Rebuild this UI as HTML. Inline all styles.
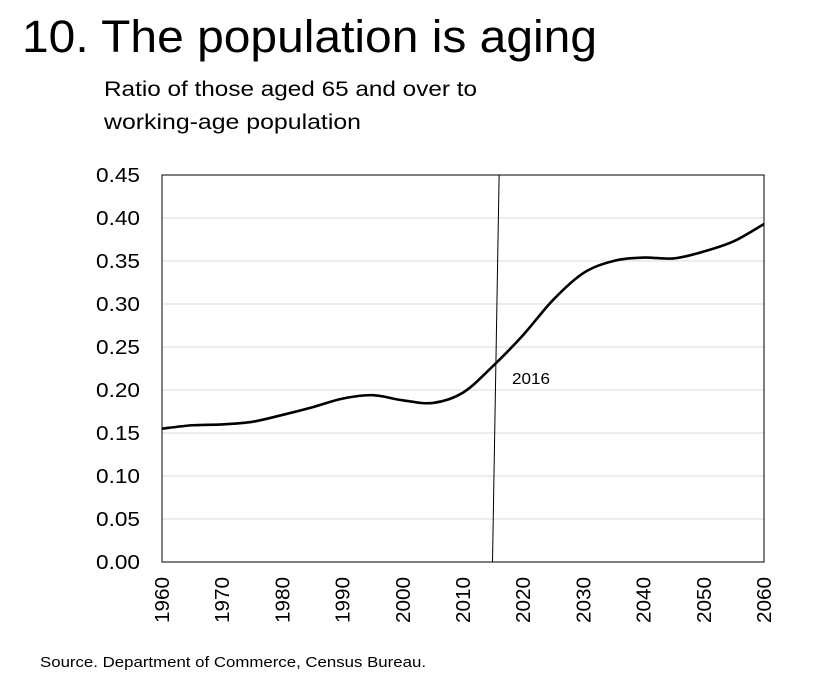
<!DOCTYPE html>
<html><head><meta charset="utf-8">
<style>
body{margin:0;background:#fff;width:826px;height:681px;overflow:hidden;font-family:"Liberation Sans",sans-serif;}
svg text{font-family:"Liberation Sans",sans-serif;}
</style></head>
<body>
<svg width="826" height="681">
<text x="22" y="52" font-size="45" textLength="575" lengthAdjust="spacingAndGlyphs" fill="#000">10. The population is aging</text>
<text x="104" y="96" font-size="21" textLength="373" lengthAdjust="spacingAndGlyphs">Ratio of those aged 65 and over to</text>
<text x="104" y="129" font-size="21" textLength="257" lengthAdjust="spacingAndGlyphs">working-age population</text>
<g id="grid"></g>
<rect x="162" y="175" width="602" height="387" fill="none" stroke="#000" stroke-width="1"/>
<g id="yt"></g><g id="xt"></g>
<path id="line" fill="none" stroke="#000" stroke-width="2.6" stroke-linejoin="round"/>
<line id="mark" stroke="#000" stroke-width="1"/>
<text x="512" y="384" font-size="16" textLength="38" lengthAdjust="spacingAndGlyphs">2016</text>
<text x="40" y="667" font-size="15" textLength="386" lengthAdjust="spacingAndGlyphs">Source. Department of Commerce, Census Bureau.</text>
</svg>
<script>
const years=[1960,1965,1970,1975,1980,1985,1990,1995,2000,2005,2010,2015,2020,2025,2030,2035,2040,2045,2050,2055,2060];
const ratio=[0.155,0.159,0.160,0.163,0.171,0.180,0.190,0.194,0.188,0.185,0.197,0.228,0.264,0.305,0.336,0.350,0.354,0.353,0.361,0.373,0.393];
const yTicks=[0,0.05,0.10,0.15,0.20,0.25,0.30,0.35,0.40,0.45];
const xTicks=[1960,1970,1980,1990,2000,2010,2020,2030,2040,2050,2060];
const markerYear=[2014.9,2016];
const X=v=>162+(v-1960)*602/100, Y=v=>562-v*387/0.45;
const ns="http://www.w3.org/2000/svg";
const grid=document.getElementById('grid'),yt=document.getElementById('yt'),xt=document.getElementById('xt');
yTicks.forEach(t=>{
 const l=document.createElementNS(ns,'line');
 
 
 l.setAttribute('x1',162);l.setAttribute('x2',764);l.setAttribute('y1',Y(t));l.setAttribute('y2',Y(t));
 l.setAttribute('stroke','#d9d9d9');grid.appendChild(l);
 const tx=document.createElementNS(ns,'text');
 
 
 tx.setAttribute('x',140);tx.setAttribute('y',Y(t)+7);tx.setAttribute('text-anchor','end');tx.setAttribute('font-size','20');
 tx.setAttribute('textLength','44');tx.setAttribute('lengthAdjust','spacingAndGlyphs');
 tx.textContent=t.toFixed(2);yt.appendChild(tx);
});
xTicks.forEach(t=>{
 const tx=document.createElementNS(ns,'text');
 
 
 tx.setAttribute('transform','translate('+(X(t)+7)+',577) rotate(-90)');
 tx.setAttribute('text-anchor','end');tx.setAttribute('font-size','20');
 tx.setAttribute('textLength','46');tx.setAttribute('lengthAdjust','spacingAndGlyphs');
 tx.textContent=t;xt.appendChild(tx);
});
const pts=years.map((y,i)=>[X(y),Y(ratio[i])]);
let d='M'+pts[0].join(',');
for(let i=1;i<pts.length;i++){
 const p0=pts[i-2]||pts[i-1],p1=pts[i-1],p2=pts[i],p3=pts[i+1]||p2;
 const c1=[p1[0]+(p2[0]-p0[0])/6,p1[1]+(p2[1]-p0[1])/6],c2=[p2[0]-(p3[0]-p1[0])/6,p2[1]-(p3[1]-p1[1])/6];
 d+=' C'+c1.join(',')+' '+c2.join(',')+' '+p2.join(',');
}
document.getElementById('line').setAttribute('d',d);
const m=document.getElementById('mark');
m.setAttribute('x1',X(markerYear[0]));m.setAttribute('y1',562);m.setAttribute('x2',X(markerYear[1]));m.setAttribute('y2',175);
</script>
</body></html>
